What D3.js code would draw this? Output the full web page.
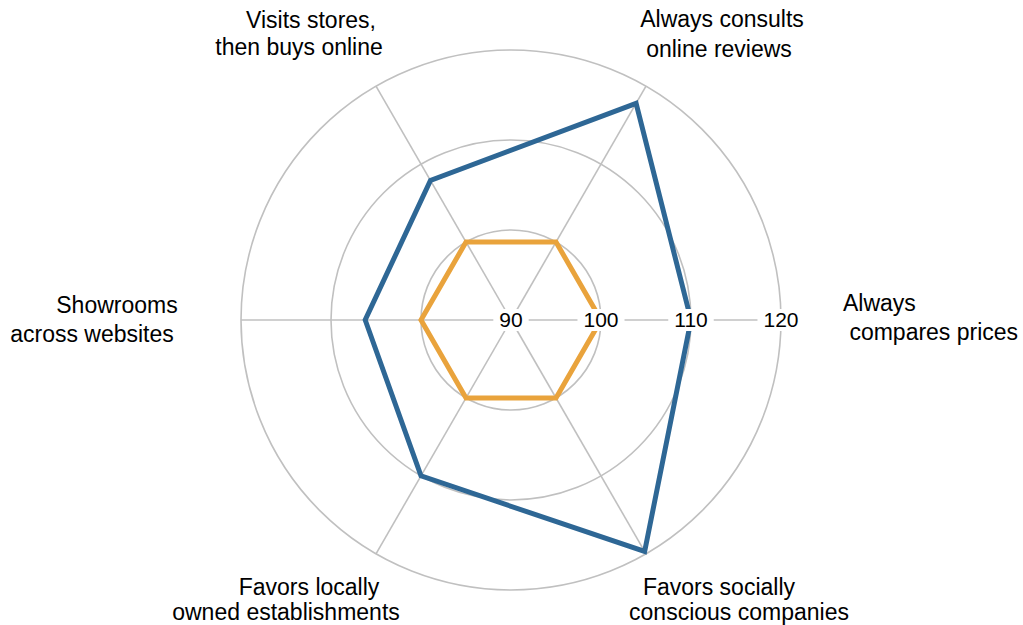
<!DOCTYPE html>
<html>
<head>
<meta charset="utf-8">
<script src="https://cdn.jsdelivr.net/npm/d3@7"></script>
<style>
    body { margin: 0; background: #fff; }
    text { font-family: "Liberation Sans", Arial, Helvetica, sans-serif; fill: #000; }
</style>
</head>
<body>
<div id="draw"></div>
<script>
// data
let categories = [
    ['Always', ' compares prices'],
    ['Favors socially', 'conscious companies'],
    ['Favors locally', 'owned establishments'],
    ['Showrooms', 'across websites'],
    ['Visits stores,', 'then buys online'],
    ['Always consults', 'online reviews']
];
let blueValues = [110, 119.7, 110, 106.2, 107.9, 117.8];
let orangeValues = [100, 100, 100, 100, 100, 100];
let ticks = [90, 100, 110, 120];

// parameters
let width = 1023, height = 625;
let cx = 511, cy = 320, radius = 270;
let gridColor = '#c0c0c0';
let blue = '#2e6795', orange = '#e9a33c';
// label line placement relative to center: [dx, dy, anchor]
let labelLayout = [
    [[332, -9, 'start'], [332, 20, 'start']],
    [[208, 275, 'middle'], [228, 300, 'middle']],
    [[-202, 275, 'middle'], [-225, 300, 'middle']],
    [[-394, -7, 'middle'], [-419, 22, 'middle']],
    [[-200, -292, 'middle'], [-212, -265, 'middle']],
    [[211, -293, 'middle'], [208, -263, 'middle']]
];

let r = d3.scaleLinear().domain([90, 120]).range([0, radius]);
let angle = i => i * 2 * Math.PI / categories.length;

let svg = d3.select('#draw').append('svg').attr('width', width).attr('height', height);
let g = svg.append('g').attr('transform', 'translate(' + cx + ',' + cy + ')');

// rings
g.append('g').selectAll('circle')
    .data(ticks.filter(d => r(d) > 0))
    .enter()
    .append('circle')
    .attr('r', d => r(d))
    .style('fill', 'none')
    .style('stroke', gridColor)
    .style('stroke-width', 1.6);

// spokes
g.append('g').selectAll('line')
    .data(categories)
    .enter()
    .append('line')
    .attr('x1', 0).attr('y1', 0)
    .attr('x2', (d, i) => r(120) * Math.cos(angle(i)))
    .attr('y2', (d, i) => r(120) * Math.sin(angle(i)))
    .style('stroke', gridColor)
    .style('stroke-width', 1.6);

// series
let line = d3.lineRadial()
    .angle((d, i) => Math.PI / 2 + angle(i))
    .radius(d => r(d))
    .curve(d3.curveLinearClosed);

g.append('path')
    .attr('d', line(orangeValues))
    .style('fill', 'none')
    .style('stroke', orange)
    .style('stroke-width', 5);

g.append('path')
    .attr('d', line(blueValues))
    .style('fill', 'none')
    .style('stroke', blue)
    .style('stroke-width', 5);

// tick labels with white boxes
let tickG = g.append('g').selectAll('g')
    .data(ticks)
    .enter()
    .append('g')
    .attr('transform', d => 'translate(' + r(d) + ',0)');
tickG.append('text')
    .text(d => d)
    .attr('text-anchor', 'middle')
    .attr('y', 7)
    .style('font-size', '21px');
tickG.each(function() {
    let b = d3.select(this).select('text').node().getBBox();
    d3.select(this).insert('rect', 'text')
        .attr('x', b.x - 6)
        .attr('y', -11)
        .attr('width', b.width + 12)
        .attr('height', 22)
        .style('fill', '#fff');
});

// axis labels
categories.forEach((lines, i) => {
    lines.forEach((l, j) => {
        let p = labelLayout[i][j];
        g.append('text')
            .attr('x', p[0])
            .attr('y', p[1])
            .attr('text-anchor', p[2])
            .style('font-size', '23px')
            .style('white-space', 'pre')
            .text(l);
    });
});
</script>
</body>
</html>
